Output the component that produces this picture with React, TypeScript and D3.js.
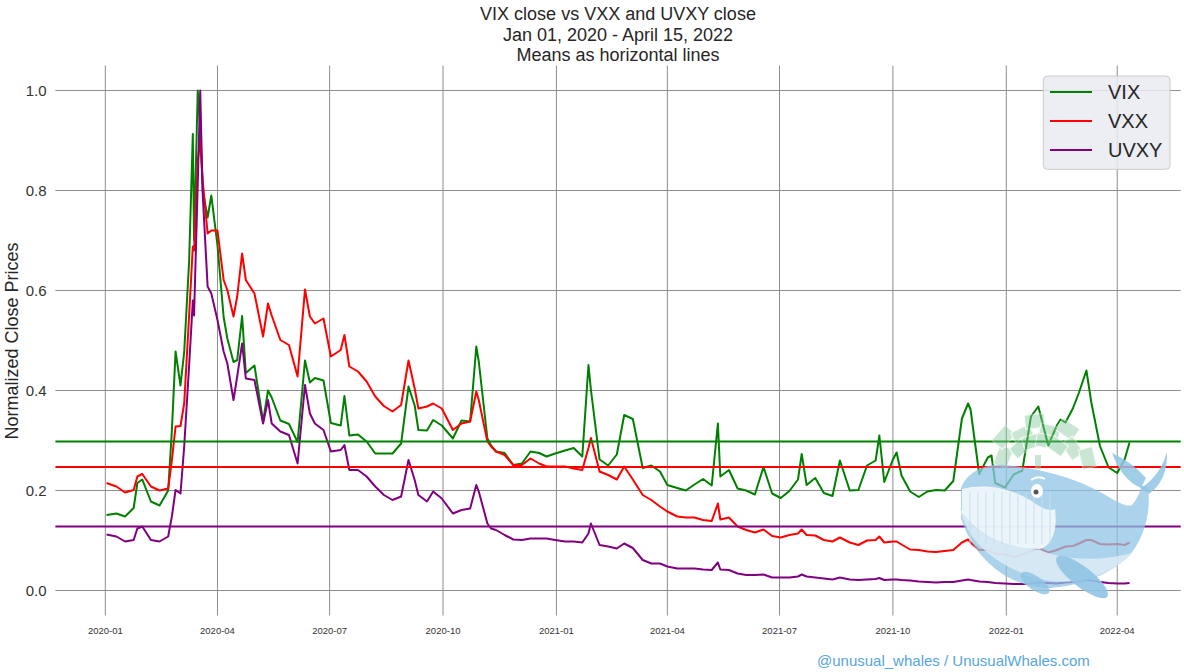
import React, { useEffect, useRef } from 'react';
import * as d3 from 'd3';

// weekly-ish samples (plus spike days)
const dates = [
  // 2020
  '2020-01-02', '2020-01-10', '2020-01-17', '2020-01-24', '2020-01-27', '2020-01-31',
  '2020-02-07', '2020-02-14', '2020-02-21', '2020-02-24', '2020-02-27',
  '2020-03-02', '2020-03-05', '2020-03-09', '2020-03-12', '2020-03-13', '2020-03-16', '2020-03-18', '2020-03-20', '2020-03-24', '2020-03-27',
  '2020-04-01', '2020-04-06', '2020-04-09', '2020-04-14', '2020-04-17', '2020-04-21', '2020-04-24',
  '2020-05-01', '2020-05-08', '2020-05-12', '2020-05-15', '2020-05-22', '2020-05-29',
  '2020-06-05', '2020-06-11', '2020-06-15', '2020-06-19', '2020-06-26',
  '2020-07-02', '2020-07-10', '2020-07-13', '2020-07-17', '2020-07-24', '2020-07-31',
  '2020-08-07', '2020-08-14', '2020-08-21', '2020-08-28',
  '2020-09-03', '2020-09-08', '2020-09-11', '2020-09-18', '2020-09-23', '2020-09-30',
  '2020-10-09', '2020-10-16', '2020-10-23', '2020-10-28', '2020-10-30',
  '2020-11-06', '2020-11-09', '2020-11-13', '2020-11-20', '2020-11-27',
  '2020-12-04', '2020-12-11', '2020-12-18', '2020-12-24', '2020-12-31',
  // 2021
  '2021-01-08', '2021-01-15', '2021-01-22', '2021-01-27', '2021-01-29',
  '2021-02-05', '2021-02-12', '2021-02-19', '2021-02-25',
  '2021-03-04', '2021-03-12', '2021-03-19', '2021-03-26',
  '2021-04-01', '2021-04-09', '2021-04-16', '2021-04-23', '2021-04-30',
  '2021-05-07', '2021-05-12', '2021-05-14', '2021-05-21', '2021-05-28',
  '2021-06-04', '2021-06-11', '2021-06-18', '2021-06-25',
  '2021-07-02', '2021-07-09', '2021-07-16', '2021-07-19', '2021-07-23', '2021-07-30',
  '2021-08-06', '2021-08-13', '2021-08-19', '2021-08-27',
  '2021-09-03', '2021-09-10', '2021-09-17', '2021-09-20', '2021-09-24',
  '2021-10-01', '2021-10-04', '2021-10-08', '2021-10-15', '2021-10-22', '2021-10-29',
  '2021-11-05', '2021-11-12', '2021-11-19', '2021-11-26',
  '2021-12-01', '2021-12-03', '2021-12-10', '2021-12-17', '2021-12-20', '2021-12-23', '2021-12-31',
  // 2022
  '2022-01-07', '2022-01-14', '2022-01-21', '2022-01-27',
  '2022-02-04', '2022-02-11', '2022-02-14', '2022-02-18', '2022-02-24',
  '2022-03-01', '2022-03-07', '2022-03-11', '2022-03-18', '2022-03-25',
  '2022-04-01', '2022-04-07', '2022-04-11',
];

const vix = [
  0.151, 0.154, 0.148, 0.165, 0.215, 0.222,
  0.178, 0.170, 0.200, 0.320, 0.478,
  0.410, 0.477, 0.659, 0.913, 0.700, 1.0, 0.925, 0.800, 0.746, 0.790,
  0.690, 0.547, 0.504, 0.457, 0.461, 0.549, 0.435,
  0.450, 0.338, 0.400, 0.386, 0.340, 0.333,
  0.297, 0.460, 0.416, 0.425, 0.420,
  0.335, 0.330, 0.389, 0.310, 0.312, 0.298,
  0.274, 0.274, 0.274, 0.294,
  0.408, 0.370, 0.321, 0.320, 0.341, 0.330,
  0.304, 0.340, 0.338, 0.488, 0.458,
  0.304, 0.290, 0.278, 0.275, 0.251,
  0.254, 0.278, 0.275, 0.268, 0.274,
  0.280, 0.285, 0.268, 0.451, 0.401,
  0.262, 0.250, 0.272, 0.351,
  0.343, 0.245, 0.250, 0.238,
  0.211, 0.205, 0.200, 0.212, 0.223,
  0.210, 0.334, 0.228, 0.241, 0.204,
  0.200, 0.192, 0.247, 0.194,
  0.185, 0.199, 0.222, 0.273, 0.211, 0.225,
  0.195, 0.189, 0.260, 0.200,
  0.201, 0.250, 0.260, 0.310, 0.217,
  0.262, 0.276, 0.230, 0.198, 0.187, 0.198,
  0.201, 0.200, 0.219, 0.344,
  0.374, 0.362, 0.233, 0.266, 0.270, 0.215, 0.206,
  0.232, 0.240, 0.348, 0.368,
  0.290, 0.330, 0.342, 0.336, 0.364,
  0.396, 0.440, 0.376, 0.289, 0.246,
  0.235, 0.262, 0.296,
];

const vxx = [
  0.215, 0.208, 0.196, 0.201, 0.228, 0.233,
  0.208, 0.200, 0.204, 0.261, 0.328,
  0.329, 0.374, 0.550, 0.688, 0.680, 0.861, 0.900, 0.820, 0.714, 0.720,
  0.720, 0.621, 0.601, 0.548, 0.588, 0.674, 0.621,
  0.594, 0.508, 0.574, 0.550, 0.501, 0.491,
  0.428, 0.602, 0.548, 0.534, 0.544,
  0.468, 0.481, 0.511, 0.448, 0.438, 0.418,
  0.388, 0.369, 0.358, 0.371,
  0.460, 0.404, 0.364, 0.368, 0.374, 0.364,
  0.321, 0.334, 0.338, 0.398, 0.381,
  0.298, 0.288, 0.278, 0.271, 0.251,
  0.251, 0.264, 0.254, 0.248, 0.248,
  0.248, 0.244, 0.241, 0.285, 0.305,
  0.238, 0.231, 0.222, 0.248,
  0.222, 0.191, 0.181, 0.168,
  0.158, 0.148, 0.146, 0.146, 0.141,
  0.139, 0.174, 0.142, 0.146, 0.128,
  0.121, 0.116, 0.122, 0.109,
  0.106, 0.111, 0.114, 0.122, 0.111, 0.110,
  0.101, 0.098, 0.106, 0.096,
  0.091, 0.100, 0.101, 0.108, 0.096,
  0.098, 0.098, 0.092, 0.082, 0.081, 0.078,
  0.077, 0.079, 0.081, 0.096,
  0.102, 0.096, 0.081, 0.081, 0.077, 0.074, 0.072,
  0.067, 0.072, 0.078, 0.085,
  0.076, 0.081, 0.084, 0.088, 0.089,
  0.094, 0.101, 0.101, 0.093, 0.092,
  0.093, 0.091, 0.096,
];

const uvxy = [
  0.112, 0.108, 0.098, 0.101, 0.124, 0.128,
  0.101, 0.098, 0.108, 0.148, 0.201,
  0.194, 0.288, 0.450, 0.580, 0.550, 0.814, 1.0, 0.794, 0.608, 0.594,
  0.541, 0.478, 0.454, 0.381, 0.428, 0.494, 0.424,
  0.421, 0.334, 0.381, 0.334, 0.318, 0.311,
  0.254, 0.411, 0.354, 0.334, 0.321,
  0.278, 0.281, 0.291, 0.241, 0.241, 0.228,
  0.208, 0.191, 0.181, 0.188,
  0.261, 0.221, 0.191, 0.178, 0.198, 0.184,
  0.154, 0.161, 0.164, 0.211, 0.198,
  0.134, 0.124, 0.121, 0.111, 0.102,
  0.101, 0.104, 0.104, 0.104, 0.101,
  0.098, 0.098, 0.096, 0.114, 0.134,
  0.091, 0.088, 0.084, 0.094,
  0.085, 0.061, 0.054, 0.054,
  0.048, 0.044, 0.044, 0.044, 0.042,
  0.041, 0.056, 0.042, 0.041, 0.034,
  0.031, 0.031, 0.032, 0.026,
  0.026, 0.026, 0.028, 0.032, 0.028, 0.026,
  0.024, 0.022, 0.026, 0.022,
  0.021, 0.022, 0.023, 0.025, 0.021,
  0.022, 0.022, 0.021, 0.020, 0.018, 0.017,
  0.016, 0.017, 0.017, 0.020,
  0.022, 0.021, 0.018, 0.017, 0.016, 0.015, 0.014,
  0.013, 0.013, 0.014, 0.016,
  0.015, 0.014, 0.015, 0.016, 0.017,
  0.018, 0.021, 0.020, 0.017, 0.015,
  0.014, 0.014, 0.015,
];

const seriesNames = ['VIX', 'VXX', 'UVXY'];
const seriesColors = ['green', 'red', 'purple'];
const seriesMeans = [0.298, 0.247, 0.128];
const yTicks = [0, 0.2, 0.4, 0.6, 0.8, 1.0];
const xTicks = ['2020-01-01', '2020-04-01', '2020-07-01', '2020-10-01', '2021-01-01', '2021-04-01', '2021-07-01', '2021-10-01', '2022-01-01', '2022-04-01'];
const titleLines = ['VIX close vs VXX and UVXY close', 'Jan 01, 2020 - April 15, 2022', 'Means as horizontal lines'];

const FONT = 'Liberation Sans, Arial, sans-serif';

const App: React.FC = () => {
  const gRef = useRef<SVGGElement>(null);
  const width = 1184;
  const height = 672;
  const plot = { left: 55.4, right: 1180.7, top: 65.5, bottom: 615.5 };

  useEffect(() => {
    const svg = d3.select(gRef.current);
    svg.selectAll('*').remove();

    const parse = d3.timeParse('%Y-%m-%d');
    const xs = dates.map((d) => parse(d) as Date);
    const [t0, t1] = d3.extent(xs) as [Date, Date];
    const pad = (t1.getTime() - t0.getTime()) * 0.05;

    const x = d3
      .scaleTime()
      .domain([new Date(t0.getTime() - pad), new Date(t1.getTime() + pad)])
      .range([plot.left, plot.right]);
    const y = d3.scaleLinear().domain([-0.05, 1.05]).range([plot.bottom, plot.top]);

    // grid
    const grid = svg.append('g');
    grid
      .selectAll('line.h')
      .data(yTicks)
      .enter()
      .append('line')
      .attr('x1', plot.left)
      .attr('x2', plot.right)
      .attr('y1', (d) => y(d))
      .attr('y2', (d) => y(d))
      .attr('stroke', '#8e8e8e')
      .attr('stroke-width', 1);
    grid
      .selectAll('line.v')
      .data(xTicks)
      .enter()
      .append('line')
      .attr('x1', (d) => x(parse(d) as Date))
      .attr('x2', (d) => x(parse(d) as Date))
      .attr('y1', plot.top)
      .attr('y2', plot.bottom)
      .attr('stroke', '#8e8e8e')
      .attr('stroke-width', 1);

    // tick labels
    svg
      .append('g')
      .selectAll('text')
      .data(yTicks)
      .enter()
      .append('text')
      .attr('x', 46.5)
      .attr('y', (d) => y(d))
      .attr('dy', '0.36em')
      .attr('text-anchor', 'end')
      .attr('font-family', FONT)
      .attr('font-size', 15)
      .attr('fill', '#333')
      .text((d) => d3.format('.1f')(d));

    svg
      .append('g')
      .selectAll('text')
      .data(xTicks)
      .enter()
      .append('text')
      .attr('x', (d) => x(parse(d) as Date))
      .attr('y', 634)
      .attr('text-anchor', 'middle')
      .attr('font-family', FONT)
      .attr('font-size', 9.5)
      .attr('fill', '#333')
      .text((d) => d3.timeFormat('%Y-%m')(parse(d) as Date));

    // series + means
    const allSeries = [vix, vxx, uvxy];
    const line = d3
      .line<number>()
      .x((_, i) => x(xs[i]))
      .y((d) => y(d));

    allSeries.forEach((vals, i) => {
      svg
        .append('path')
        .datum(vals)
        .attr('d', line)
        .attr('fill', 'none')
        .attr('stroke', seriesColors[i])
        .attr('stroke-width', 2)
        .attr('stroke-linejoin', 'round');
    });
    seriesMeans.forEach((m, i) => {
      svg
        .append('line')
        .attr('x1', plot.left)
        .attr('x2', plot.right)
        .attr('y1', y(m))
        .attr('y2', y(m))
        .attr('stroke', seriesColors[i])
        .attr('stroke-width', 2);
    });

    // whale watermark
    const w = svg.append('g');
    const money = w.append('g').attr('opacity', 0.45);
    money
      .append('rect')
      .attr('x', 1035)
      .attr('y', 455)
      .attr('width', 6)
      .attr('height', 14)
      .attr('fill', '#8ccaa2');
    const fan = [-70, -48, -26, -6, 14, 34, 56, 76];
    fan.forEach((a, i) => {
      money
        .append('rect')
        .attr('x', -10)
        .attr('y', i % 2 ? -56 : -46)
        .attr('width', 20)
        .attr('height', 14)
        .attr('fill', '#86c99d')
        .attr('stroke', '#eef8f1')
        .attr('stroke-width', 1)
        .attr('transform', `translate(1040,470) rotate(${a})`);
    });
    [-42, -16, 10, 36].forEach((a) => {
      money
        .append('rect')
        .attr('x', -9)
        .attr('y', -36)
        .attr('width', 18)
        .attr('height', 13)
        .attr('fill', '#79c291')
        .attr('stroke', '#eef8f1')
        .attr('transform', `translate(1040,470) rotate(${a})`);
    });

    const blue = '#8fc4e4';
    w.append('path')
      .attr('d', 'M1141 488 Q1122 480 1112 453 Q1132 462 1146 478 Z M1141 488 Q1160 476 1167 452 Q1168 480 1149 494 Z')
      .attr('fill', blue)
      .attr('opacity', 0.85);
    w.append('path')
      .attr(
        'd',
        'M961 488 C968 470 988 463 1004 465 C1040 468 1075 478 1100 492 C1116 501 1126 508 1132 505 C1138 498 1141 490 1141 485 L1148 488 C1151 512 1145 536 1130 555 C1110 575 1080 586 1050 588 C1010 588 974 560 961 518 Z'
      )
      .attr('fill', blue)
      .attr('opacity', 0.75);
    w.append('path')
      .attr('d', 'M960 508 C966 542 1000 570 1045 580 C1080 586 1113 574 1132 553 C1100 562 1062 560 1040 550 C1004 545 975 532 960 508 Z')
      .attr('fill', '#dcebf5')
      .attr('opacity', 0.85);
    w.append('path')
      .attr('d', 'M962 489 C985 483 1010 488 1030 500 C1040 507 1048 512 1055 509 C1058 530 1052 546 1040 549 C1008 549 979 535 962 512 Z')
      .attr('fill', '#f2f8fc')
      .attr('opacity', 0.9);
    d3.range(970, 1052, 8).forEach((gx) => {
      w.append('line')
        .attr('x1', gx)
        .attr('x2', gx)
        .attr('y1', 492)
        .attr('y2', 544)
        .attr('stroke', '#c6dfee')
        .attr('stroke-width', 1);
    });
    w.append('ellipse')
      .attr('cx', 1082)
      .attr('cy', 577)
      .attr('rx', 32)
      .attr('ry', 10)
      .attr('transform', 'rotate(38 1082 577)')
      .attr('fill', blue)
      .attr('opacity', 0.9);
    w.append('ellipse')
      .attr('cx', 1035)
      .attr('cy', 583)
      .attr('rx', 17)
      .attr('ry', 7)
      .attr('transform', 'rotate(35 1035 583)')
      .attr('fill', blue)
      .attr('opacity', 0.8);
    w.append('ellipse').attr('cx', 1037).attr('cy', 491).attr('rx', 6).attr('ry', 7).attr('fill', '#ffffff');
    w.append('circle').attr('cx', 1036).attr('cy', 492).attr('r', 2.5).attr('fill', '#555');
    w.append('path')
      .attr('d', 'M1031 480 Q1038 475 1045 479')
      .attr('fill', 'none')
      .attr('stroke', '#ffffff')
      .attr('stroke-width', 2);

    // legend
    const lg = svg.append('g');
    lg.append('rect')
      .attr('x', 1043.3)
      .attr('y', 76)
      .attr('width', 126.7)
      .attr('height', 93.3)
      .attr('rx', 4)
      .attr('fill', '#eaeaf2')
      .attr('fill-opacity', 0.85)
      .attr('stroke', '#cccccc');
    seriesNames.forEach((name, i) => {
      const ly = 92 + i * 29;
      lg.append('line')
        .attr('x1', 1050)
        .attr('x2', 1092)
        .attr('y1', ly)
        .attr('y2', ly)
        .attr('stroke', seriesColors[i])
        .attr('stroke-width', 2);
      lg.append('text')
        .attr('x', 1108)
        .attr('y', ly)
        .attr('dy', '0.36em')
        .attr('font-family', FONT)
        .attr('font-size', 20)
        .attr('fill', '#262626')
        .text(name);
    });
  }, []);

  return (
    <svg
      width={width}
      height={height}
      style={{ position: 'absolute', left: 0, top: 0, background: '#fff' }}
    >
      <g ref={gRef} />
      {titleLines.map((t, i) => (
        <text key={t} x={618} y={20 + i * 20.5} textAnchor="middle" fontSize={18} fill="#262626" fontFamily={FONT}>
          {t}
        </text>
      ))}
      <text
        transform="translate(18,341) rotate(-90)"
        textAnchor="middle"
        fontSize={18}
        fill="#262626"
        fontFamily={FONT}
      >
        Normalized Close Prices
      </text>
      <text x={817} y={666} fontSize={15} fill="#55a6dc" fontFamily={FONT}>
        @unusual_whales / UnusualWhales.com
      </text>
    </svg>
  );
};

export default App;
